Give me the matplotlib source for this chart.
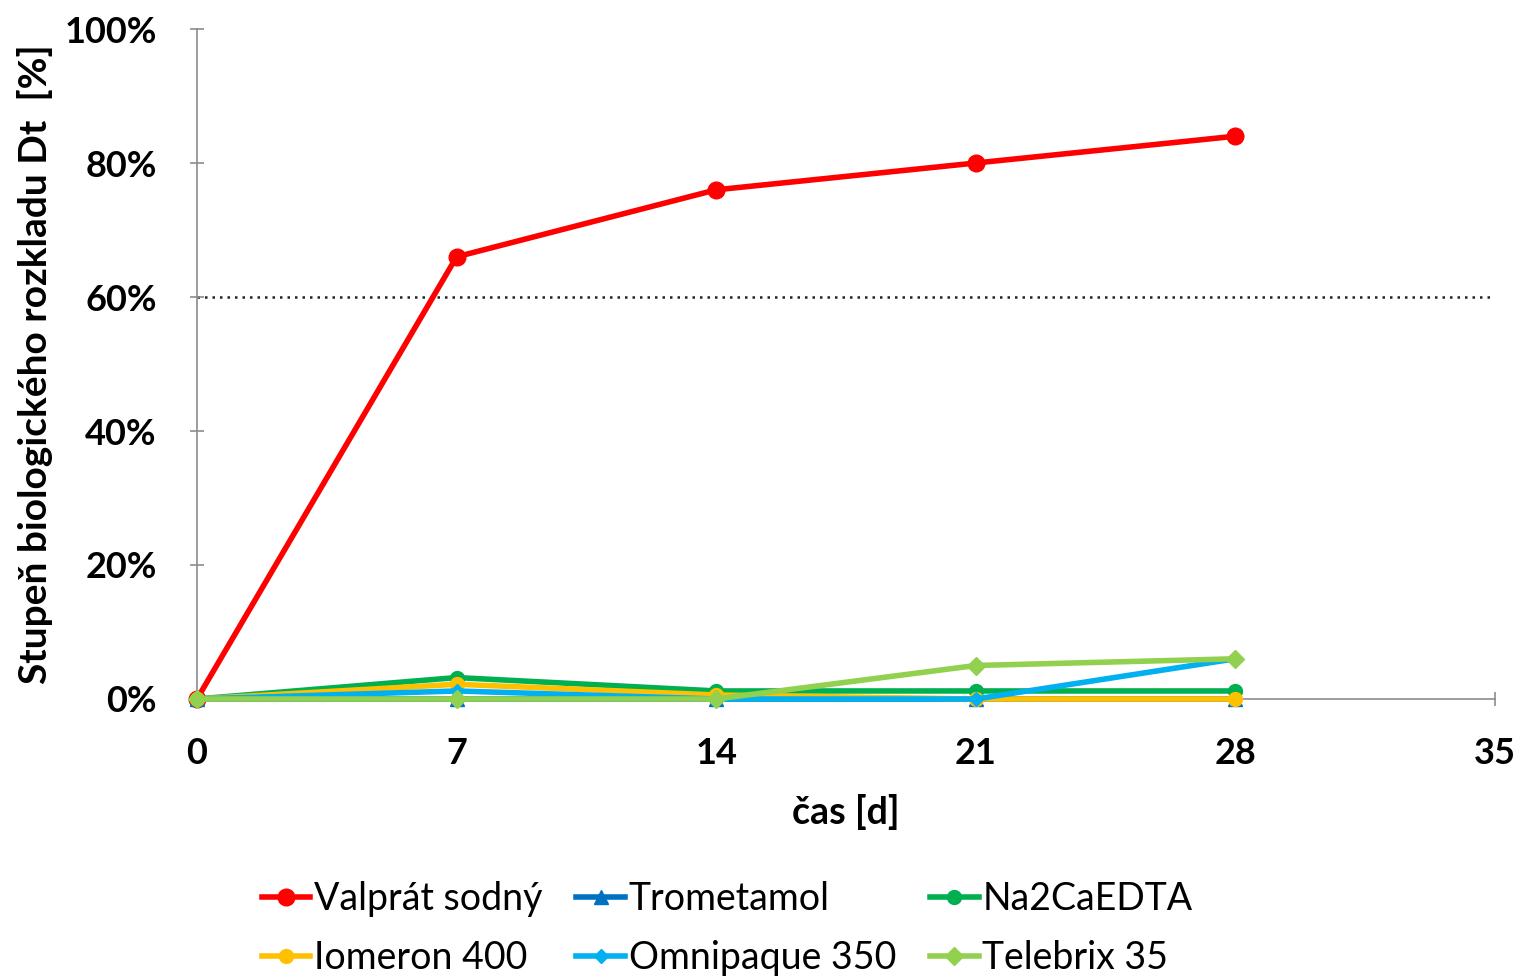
import matplotlib.pyplot as plt
from matplotlib.ticker import PercentFormatter

plt.rcParams['font.family'] = ['Lato', 'DejaVu Sans']

# degradation over time, % of theoretical
days = [0, 7, 14, 21, 28]
valprat = [0, 66, 76, 80, 84]
trometamol = [0, 0, 0, 0, 0]
na2caedta = [0, 3.2, 1.2, 1.2, 1.2]
iomeron = [0, 2.2, 0.6, 0, 0]
omnipaque = [0, 1.2, 0, 0, 6]
telebrix = [0, 0, 0, 5, 6]

series = [
    ('Valprát sodný', valprat, '#ff0000', 'o', 12),
    ('Trometamol', trometamol, '#0070c0', '^', 10),
    ('Na2CaEDTA', na2caedta, '#00b050', 'o', 10),
    ('Iomeron 400', iomeron, '#ffc000', 'o', 10),
    ('Omnipaque 350', omnipaque, '#00b0f0', 'D', 7),
    ('Telebrix 35', telebrix, '#92d050', 'D', 9),
]

fig = plt.figure(figsize=(15.21, 9.8), dpi=100)
ax = fig.add_axes([197 / 1521, 1 - 699 / 980, (1495 - 197) / 1521, (699 - 29) / 980])

ax.axhline(60, color='#222222', linestyle=(0, (1, 2)), linewidth=1.8, zorder=1)

lines = {}
for i, (name, vals, col, mk, ms) in enumerate(series):
    ln, = ax.plot(days, vals, color=col, marker=mk, markersize=ms, linewidth=4,
                  label=name, zorder=3 + i, clip_on=False)
    lines[name] = ln

ax.set_xlim(0, 35)
ax.set_ylim(0, 100)
ax.set_xticks([0, 7, 14, 21, 28, 35])
ax.set_yticks([0, 20, 40, 60, 80, 100])
ax.yaxis.set_major_formatter(PercentFormatter(decimals=0))

for s in ['top', 'right']:
    ax.spines[s].set_visible(False)
for s in ['left', 'bottom']:
    ax.spines[s].set_color('#8c8c8c')
    ax.spines[s].set_linewidth(1.2)

ax.tick_params(axis='both', direction='inout', length=10, width=1.2,
               color='#8c8c8c', labelsize=26)
for lab in ax.get_xticklabels() + ax.get_yticklabels():
    lab.set_fontweight('bold')
ax.tick_params(axis='x', pad=22)
ax.tick_params(axis='y', pad=24)

ax.set_xlabel('čas [d]', fontsize=27, fontweight='bold', labelpad=18)
ax.set_ylabel('Stupeň biologického rozkladu Dt  [%]', fontsize=28,
              fontweight='bold', labelpad=8)

# legend fills column-wise, so interleave to get two rows of three
legend_order = ['Valprát sodný', 'Iomeron 400', 'Trometamol',
                'Omnipaque 350', 'Na2CaEDTA', 'Telebrix 35']
fig.legend([lines[n] for n in legend_order], legend_order,
           loc='lower center', bbox_to_anchor=(0.478, -0.03), ncol=3,
           frameon=False, fontsize=27, handlelength=1.3,
           handletextpad=0.1, columnspacing=0.9, labelspacing=0.6)

fig.savefig('out.png', dpi=100)
